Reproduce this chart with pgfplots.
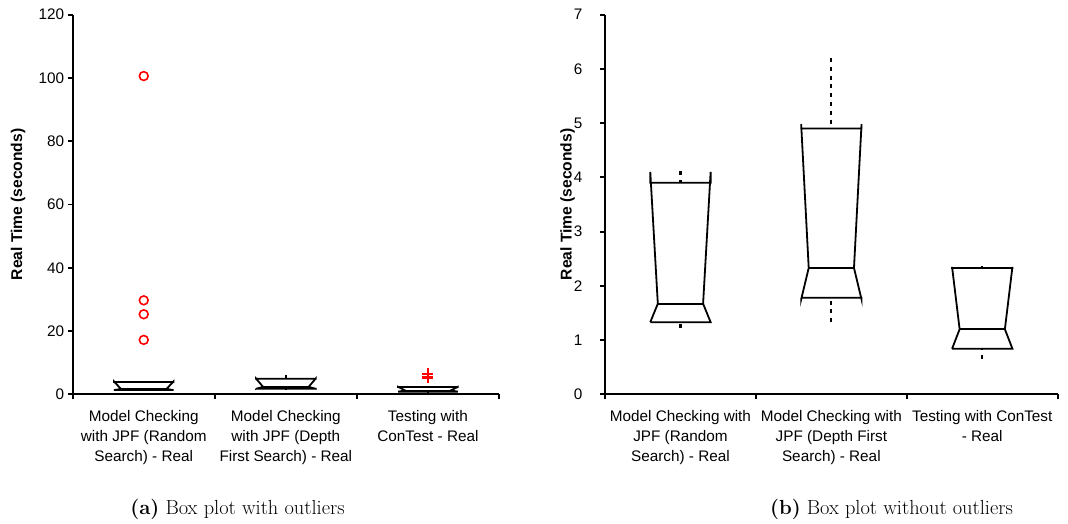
\documentclass[border=0pt]{standalone}
\usepackage{fontspec}
\usepackage{pgfplots}
\pgfplotsset{compat=1.18}
\newfontfamily\arial{Liberation Sans}
\newcommand{\tickfont}{\arial\fontsize{15.3}{20}\selectfont}
\pgfplotsset{
  boxplotcommon/.style={
    scale only axis,
    xmin=0.5, xmax=3.5, ymin=0,
    axis x line*=bottom, axis y line*=left,
    axis line style={-, line width=1.9pt, black},
    tick align=outside,
    major tick length=5pt,
    every tick/.style={black, line width=1.8pt},
    xtick={0.5,1.5,2.5,3.5}, xticklabels={},
    extra x ticks={1,2,3},
    extra x tick style={major tick length=0pt},
    tick label style={font=\tickfont},
    xticklabel style={align=center, anchor=north, yshift=-13pt},
    /pgf/number format/assume math mode=true,
    ylabel={Real Time (seconds)},
    ylabel style={anchor=center, font=\arial\bfseries\fontsize{15.6}{18}\selectfont},
    clip=false,
  },
  boxline/.style={black, line width=1.8pt, mark=none},
  whisk/.style={black, line width=2.2pt, mark=none, dash pattern=on 4pt off 4.8pt},
}
\begin{document}
\begin{tikzpicture}[x=1pt,y=1pt]
\path[use as bounding box] (0,0) rectangle (1068,524);

% ---------------- (a) with outliers ----------------
\begin{axis}[boxplotcommon,
  at={(72.7pt,129.7pt)}, anchor=south west,
  width=426.3pt, height=379.6pt,
  ymax=120, ytick={0,20,...,120},
  extra x tick labels={{Model Checking\\with JPF (Random\\Search) - Real},
                       {Model Checking\\with JPF (Depth\\First Search) - Real},
                       {Testing with\\ConTest - Real}},
  ylabel style={at={(axis description cs:-0.128,0.5)}},
]
% box 1: q1 1.33, median 1.67, q3 3.9, notch 1.33..4.1
\addplot[boxline] coordinates {(0.79,1.33) (0.84,1.67) (0.79,4.1) (0.79,3.9) (1.21,3.9) (1.21,4.1) (1.16,1.67) (1.21,1.33) (0.79,1.33)};
\addplot[boxline] coordinates {(0.84,1.67) (1.16,1.67)};
\addplot[whisk] coordinates {(1,4.12) (1,3.9)};
\addplot[whisk] coordinates {(1,1.22) (1,1.33)};
% box 2
\addplot[boxline] coordinates {(1.79,1.78) (1.79,1.75) (1.84,2.33) (1.79,4.98) (1.79,4.9) (2.21,4.9) (2.21,4.98) (2.16,2.33) (2.21,1.75) (2.21,1.78) (1.79,1.78)};
\addplot[boxline] coordinates {(1.84,2.33) (2.16,2.33)};
\addplot[whisk] coordinates {(2,6.2) (2,4.9)};
\addplot[whisk] coordinates {(2,1.33) (2,1.78)};
% box 3
\addplot[boxline] coordinates {(2.79,0.84) (2.84,1.2) (2.79,2.35) (2.79,2.33) (3.21,2.33) (3.21,2.35) (3.16,1.2) (3.21,0.84) (2.79,0.84)};
\addplot[boxline] coordinates {(2.84,1.2) (3.16,1.2)};
\addplot[whisk] coordinates {(3,2.37) (3,2.33)};
\addplot[whisk] coordinates {(3,0.66) (3,0.84)};
% outliers
\addplot[only marks, mark=o, mark size=4.4pt, red, line width=1.6pt] coordinates {(1,100.6) (1,29.7) (1,25.3) (1,17.2)};
\addplot[only marks, mark=+, mark size=5.5pt, red, line width=2.2pt] coordinates {(3,5.3) (3,6.5)};
\end{axis}

% ---------------- (b) without outliers ----------------
\begin{axis}[boxplotcommon,
  at={(605pt,129.7pt)}, anchor=south west,
  width=452.7pt, height=379.6pt,
  ymax=7, ytick={0,1,...,7},
  yticklabel style={xshift=-14pt},
  extra x tick labels={{Model Checking with\\JPF (Random\\Search) - Real},
                       {Model Checking with\\JPF (Depth First\\Search) - Real},
                       {Testing with ConTest\\- Real}},
  ylabel style={at={(axis description cs:-0.0824,0.5)}},
]
\addplot[boxline] coordinates {(0.8,1.33) (0.85,1.67) (0.8,4.1) (0.8,3.9) (1.2,3.9) (1.2,4.1) (1.15,1.67) (1.2,1.33) (0.8,1.33)};
\addplot[boxline] coordinates {(0.85,1.67) (1.15,1.67)};
\addplot[whisk] coordinates {(1,4.12) (1,3.9)};
\addplot[whisk] coordinates {(1,1.22) (1,1.33)};
\addplot[boxline] coordinates {(1.8,1.78) (1.8,1.75) (1.85,2.33) (1.8,4.98) (1.8,4.9) (2.2,4.9) (2.2,4.98) (2.15,2.33) (2.2,1.75) (2.2,1.78) (1.8,1.78)};
\addplot[boxline] coordinates {(1.85,2.33) (2.15,2.33)};
\addplot[whisk] coordinates {(2,6.2) (2,4.9)};
\addplot[whisk] coordinates {(2,1.33) (2,1.78)};
\addplot[boxline] coordinates {(2.8,0.84) (2.85,1.2) (2.8,2.35) (2.8,2.33) (3.2,2.33) (3.2,2.35) (3.15,1.2) (3.2,0.84) (2.8,0.84)};
\addplot[boxline] coordinates {(2.85,1.2) (3.15,1.2)};
\addplot[whisk] coordinates {(3,2.37) (3,2.33)};
\addplot[whisk] coordinates {(3,0.66) (3,0.84)};
\end{axis}

% captions
\node[anchor=base, font=\fontsize{20.4}{24}\selectfont] at (237.5,9) {\textbf{(a)} Box plot with outliers};
\node[anchor=base, font=\fontsize{20.4}{24}\selectfont] at (891.5,9) {\textbf{(b)} Box plot without outliers};
\end{tikzpicture}
\end{document}
